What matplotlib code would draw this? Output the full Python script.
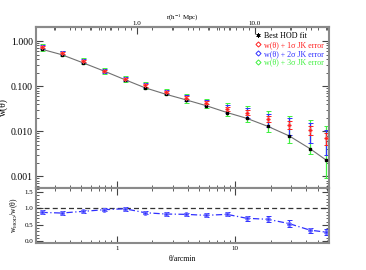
import numpy as np
import matplotlib
matplotlib.use('Agg')
import matplotlib.pyplot as plt
from matplotlib.lines import Line2D
from matplotlib.ticker import FixedLocator, NullFormatter, LogLocator

plt.rcParams['font.family'] = ['Liberation Serif', 'DejaVu Serif']
plt.rcParams['mathtext.fontset'] = 'stix'

# data
theta = [0.23, 0.34, 0.515, 0.775, 1.17, 1.73, 2.6, 3.84, 5.68, 8.55,
         12.6, 19.0, 28.7, 43.2, 59.0]
w_obs = [0.73, 0.54, 0.36, 0.22, 0.144, 0.104, 0.075, 0.055, 0.0426, 0.0317,
         0.0258, 0.0187, 0.0139, 0.0106, 0.0069]
w_err = [0.04, 0.025, 0.018, 0.011, 0.007, 0.006, 0.004, 0.004, 0.0031, 0.0033,
         0.0032, 0.003, 0.0028, 0.0025, 0.002]
w_hod = [0.66, 0.50, 0.33, 0.217, 0.139, 0.092, 0.066, 0.0497, 0.037, 0.026,
         0.0193, 0.0128, 0.0079, 0.0041, 0.0023]
ratio = [0.88, 0.86, 0.91, 0.96, 0.99, 0.87, 0.83, 0.82, 0.79, 0.82,
         0.70, 0.67, 0.54, 0.34, 0.28]
ratio_err = [0.06, 0.05, 0.05, 0.05, 0.06, 0.05, 0.05, 0.05, 0.06, 0.06,
             0.07, 0.09, 0.10, 0.08, 0.10]
mpc_per_arcmin = 0.68

red = '#ff2020'
blue = '#3030ff'
green = '#40f040'
spine_col = '#8a8a8a'

fig = plt.figure(figsize=(3.66, 2.7), dpi=100)
ax1 = fig.add_axes([0.098, 0.3037, 0.801, 0.5963])
ax2 = fig.add_axes([0.098, 0.1, 0.801, 0.2037])

t = np.array(theta)
wo = np.array(w_obs)
we = np.array(w_err)

# error bars, 3 sigma first so smaller ones sit on top
for k, c in [(3, green), (2, blue), (1, red)]:
    ax1.errorbar(t, wo, yerr=k * we, fmt='none', ecolor=c, elinewidth=0.9,
                 capsize=1.8, capthick=0.7)
ax1.plot(t, w_hod, '-', color='#707070', lw=0.8, zorder=3)
ax1.plot(t, w_hod, 's', color='black', ms=1.8, zorder=4)
ax1.plot(t, wo, 'D', color=red, ms=2.2, mec='#ff7070', mew=0.4, zorder=5)

ax1.set_xscale('log')
ax1.set_yscale('log')
xl = (0.206, 62.6)
ax1.set_xlim(xl)
ax1.set_ylim(5.5e-4, 2.05)
ax1.set_yticks([1, 0.1, 0.01, 0.001])
ax1.set_yticklabels(['1.000', '0.100', '0.010', '0.001'], fontsize=7)
ax1.yaxis.set_minor_locator(LogLocator(base=10, subs=np.arange(2, 10)))
ax1.yaxis.set_minor_formatter(NullFormatter())
ax1.xaxis.set_major_formatter(NullFormatter())
ax1.xaxis.set_minor_formatter(NullFormatter())
ax1.set_ylabel('w(θ)', fontsize=7)
ax1.yaxis.set_label_coords(-0.094, 0.5)

# top axis in r
sec = ax1.secondary_xaxis('top', functions=(lambda x: x * mpc_per_arcmin,
                                            lambda r: r / mpc_per_arcmin))
sec.set_xticks([1.0, 10.0])
sec.set_xticklabels(['1.0', '10.0'], fontsize=5)
sec.xaxis.set_minor_locator(LogLocator(base=10, subs=np.arange(2, 10)))
sec.xaxis.set_minor_formatter(NullFormatter())
sec.tick_params(which='both', direction='in', colors='#444444', labelcolor='black', pad=1)
sec.tick_params(which='major', length=5)
sec.tick_params(which='minor', length=2.5)
sec.set_xlabel(r'r(h$^{-1}$ Mpc)', fontsize=5, labelpad=0.5)
sec.spines['top'].set_color(spine_col)
sec.spines['top'].set_linewidth(1.5)

handles = [
    Line2D([], [], ls='none', marker=(6, 2, 0), color='black', ms=3, mew=0.6),
    Line2D([], [], ls='none', marker='D', mfc='none', mec=red, ms=2.6, mew=0.7),
    Line2D([], [], ls='none', marker='D', mfc='none', mec=blue, ms=2.6, mew=0.7),
    Line2D([], [], ls='none', marker='D', mfc='none', mec=green, ms=2.6, mew=0.7),
]
labels = ['Best HOD fit',
          'w(θ) + 1σ JK error',
          'w(θ) + 2σ JK error',
          'w(θ) + 3σ JK error']
ax1.legend(handles, labels, loc='upper right', fontsize=5.8, frameon=False,
           handletextpad=0.2, handlelength=1.0, labelspacing=0.1,
           borderaxespad=0.25, labelcolor=['black', red, blue, green])

# lower ratio panel
ax2.axhline(1.0, color='#333333', ls=(0, (4, 2.5)), lw=0.9)
ax2.errorbar(theta, ratio, yerr=ratio_err, fmt='o', color=blue, ms=2.5,
             ls=(0, (5, 2, 1, 2)), lw=0.9, elinewidth=0.9, capsize=1.8,
             capthick=0.7, mfc=blue, mec='#7070ff')
ax2.set_xscale('log')
ax2.set_xlim(xl)
ax2.set_ylim(-0.05, 1.62)
ax2.set_yticks([0.0, 0.5, 1.0, 1.5])
ax2.set_yticklabels(['0.0', '0.5', '1.0', '1.5'], fontsize=5)
ax2.yaxis.set_minor_locator(FixedLocator(np.arange(0.0, 1.61, 0.1)))
ax2.set_xticks([1, 10])
ax2.set_xticklabels(['1', '10'], fontsize=5)
ax2.xaxis.set_minor_formatter(NullFormatter())
ax2.set_xlabel('θ/arcmin', fontsize=5.5, labelpad=3)
ax2.set_ylabel(r'w$_{\rm HOD}$/w(θ)', fontsize=5.5, labelpad=3)

for ax in (ax1, ax2):
    ax.tick_params(which='both', direction='in', top=True, right=True,
                   colors='#444444', labelcolor='black', pad=2)
    ax.tick_params(which='major', length=5)
    ax.tick_params(which='minor', length=2.5)
    for s in ax.spines.values():
        s.set_color(spine_col)
        s.set_linewidth(1.5)
ax1.tick_params(top=False)

fig.savefig('out.png', dpi=100)
